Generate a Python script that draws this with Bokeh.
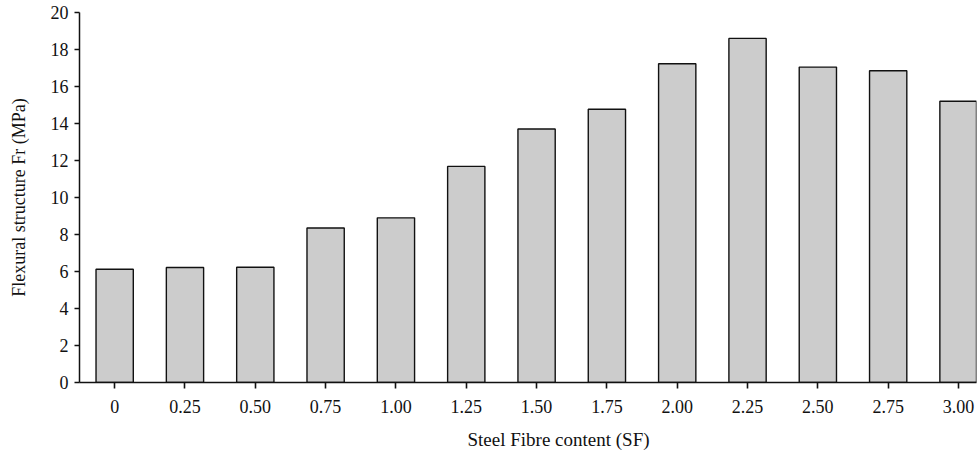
from bokeh.plotting import figure
from bokeh.models import FixedTicker, Title, ColumnDataSource
from bokeh.embed import file_html
from bokeh.resources import INLINE

sf_labels = ["0", "0.25", "0.50", "0.75", "1.00", "1.25", "1.50",
             "1.75", "2.00", "2.25", "2.50", "2.75", "3.00"]
flexural = [6.12, 6.22, 6.23, 8.35, 8.9, 11.68, 13.7, 14.77,
            17.23, 18.6, 17.05, 16.85, 15.2]
y_ticks = [0, 2, 4, 6, 8, 10, 12, 14, 16, 18, 20]

x_title = "Steel Fibre content (SF)"
y_title = "Flexural structure Fr (MPa)"

FONT = "Liberation Serif"
FS = "18px"

idx = list(range(len(sf_labels)))
src = ColumnDataSource(dict(x=idx, top=flexural))

p = figure(width=979, height=460, x_range=(-0.5, 12.256), y_range=(0, 20),
           output_backend="svg", toolbar_location=None,
           min_border_left=79, min_border_top=12, min_border_right=3,
           min_border_bottom=78)

p.vbar(x="x", top="top", width=0.53, source=src, fill_color="#cccccc",
       line_color="#111111", line_width=1.4)

p.xgrid.visible = False
p.ygrid.visible = False
p.outline_line_color = None
p.background_fill_color = "white"
p.border_fill_color = "white"

xa = p.xaxis[0]
xa.ticker = FixedTicker(ticks=idx)
xa.major_label_overrides = {i: s for i, s in enumerate(sf_labels)}
xa.minor_tick_line_color = None
xa.major_tick_in = 0
xa.major_tick_out = 6
xa.major_tick_line_width = 1.6
xa.axis_line_width = 1.5
xa.axis_line_color = "#111111"
xa.major_tick_line_color = "#111111"
xa.major_label_standoff = 11
xa.major_label_text_font = FONT
xa.major_label_text_font_size = FS
xa.major_label_text_color = "#111111"

ya = p.yaxis[0]
ya.ticker = FixedTicker(ticks=y_ticks)
ya.minor_tick_line_color = None
ya.major_tick_in = 0
ya.major_tick_out = 5
ya.major_tick_line_width = 1.6
ya.axis_line_width = 1.5
ya.axis_line_color = "#111111"
ya.major_tick_line_color = "#111111"
ya.major_label_standoff = 6
ya.major_label_text_font = FONT
ya.major_label_text_font_size = FS
ya.major_label_text_color = "#111111"
ya.axis_label = y_title
ya.axis_label_text_font = FONT
ya.axis_label_text_font_size = FS
ya.axis_label_text_font_style = "normal"
ya.axis_label_text_color = "#111111"
ya.axis_label_standoff = 19

p.add_layout(Title(text=x_title, align="left", offset=388, standoff=22,
                   text_font=FONT, text_font_size="19px",
                   text_font_style="normal", text_color="#111111"), "below")

open("out.html", "w").write(file_html(p, INLINE))
